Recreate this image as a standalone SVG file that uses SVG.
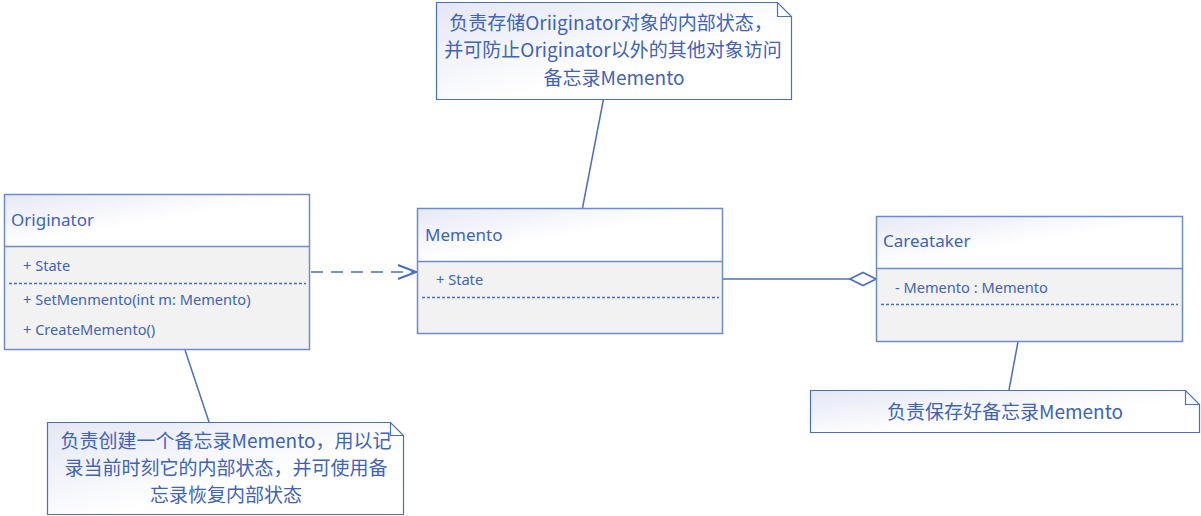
<svg xmlns="http://www.w3.org/2000/svg" width="1201" height="516" viewBox="0 0 1201 516">
<defs>
<linearGradient id="hg" x1="0" y1="0" x2="1" y2="1">
<stop offset="0" stop-color="#E6E8F5"/>
<stop offset="0.5" stop-color="#FFFFFF"/>
<stop offset="1" stop-color="#FFFFFF"/>
</linearGradient>
<linearGradient id="ng" x1="0" y1="0" x2="1" y2="1">
<stop offset="0" stop-color="#E4E7F4"/>
<stop offset="0.6" stop-color="#FFFFFF"/>
<stop offset="1" stop-color="#FFFFFF"/>
</linearGradient>
<marker id="open" viewBox="0 0 20 16" refX="19" refY="8" markerWidth="20" markerHeight="16" markerUnits="userSpaceOnUse" orient="auto">
<path d="M1,1 L19,8 L1,15" fill="none" stroke="#4A6FC0" stroke-width="2"/>
</marker>
<marker id="dia" viewBox="0 0 28 16" refX="27" refY="8" markerWidth="28" markerHeight="16" markerUnits="userSpaceOnUse" orient="auto">
<path d="M1,8 L14,1.5 L27,8 L14,14.5 Z" fill="#FFFFFF" stroke="#4A6FC0" stroke-width="1.6"/>
</marker>
</defs>
<style>
.box{stroke:#6D8CCB;stroke-width:1.5}
.hd{fill:url(#hg)}
.bd{fill:#F2F2F2}
.sep{stroke:#6D8CCB;stroke-width:1.5}
.dot{stroke:#4A6FC0;stroke-width:1.5;stroke-dasharray:3 2}
.note{fill:url(#ng);stroke:#4A6FC0;stroke-width:1.2}
.fold{fill:none;stroke:#4A6FC0;stroke-width:1.2}
.t{font-family:"Noto Sans","Noto Sans CJK SC",sans-serif;fill:#3F63B5}
.h{font-size:17px}
.a{font-size:14.6px}
.n{font-size:19px;text-anchor:middle;font-family:"Noto Sans CJK SC","Noto Sans",sans-serif;fill:#3F63B5}
.c{fill:none;stroke:#4A6FC0;stroke-width:1.5}
</style>
<g id="connectors">
<line class="c" x1="311" y1="272" x2="416" y2="272" stroke-dasharray="12 8" marker-end="url(#open)"/>
<line class="c" x1="723" y1="279" x2="876" y2="279" marker-end="url(#dia)"/>
<line class="c" x1="603.5" y1="99" x2="582.5" y2="208" stroke-width="1.2"/>
<line class="c" x1="185" y1="350" x2="209" y2="422" stroke-width="1.2"/>
<line class="c" x1="1018" y1="342" x2="1009" y2="390" stroke-width="1.2"/>
</g>
<g id="originator">
<rect class="hd" x="4.5" y="194.5" width="305" height="52"/>
<rect class="bd" x="4.5" y="246.5" width="305" height="103"/>
<rect class="box" x="4.5" y="194.5" width="305" height="155" fill="none"/>
<line class="sep" x1="4.5" y1="246.5" x2="309.5" y2="246.5"/>
<line class="dot" x1="9" y1="283.5" x2="306" y2="283.5"/>
<text class="t h" x="11" y="226">Originator</text>
<text class="t a" x="23" y="271">+ State</text>
<text class="t a" x="23" y="305">+ SetMenmento(int m: Memento)</text>
<text class="t a" x="23" y="335">+ CreateMemento()</text>
</g>
<g id="memento">
<rect class="hd" x="417.5" y="208.5" width="305" height="53"/>
<rect class="bd" x="417.5" y="261.5" width="305" height="72"/>
<rect class="box" x="417.5" y="208.5" width="305" height="125" fill="none"/>
<line class="sep" x1="417.5" y1="261.5" x2="722.5" y2="261.5"/>
<line class="dot" x1="422" y1="297.5" x2="719" y2="297.5"/>
<text class="t h" x="425" y="241">Memento</text>
<text class="t a" x="436" y="285">+ State</text>
</g>
<g id="careataker">
<rect class="hd" x="876.5" y="216.5" width="306" height="52"/>
<rect class="bd" x="876.5" y="268.5" width="306" height="73"/>
<rect class="box" x="876.5" y="216.5" width="306" height="125" fill="none"/>
<line class="sep" x1="876.5" y1="268.5" x2="1182.5" y2="268.5"/>
<line class="dot" x1="881" y1="304.5" x2="1178" y2="304.5"/>
<text class="t h" x="883" y="247">Careataker</text>
<text class="t a" x="895" y="293">- Memento : Memento</text>
</g>
<g id="note-memento">
<path class="note" d="M436.5,2.5 H777.5 L791.5,16.5 V99.5 H436.5 Z"/>
<path class="fold" d="M777.5,2.5 V16.5 H791.5"/>
<text class="n" x="611" y="30">负责存储Oriiginator对象的内部状态，</text>
<text class="n" x="613" y="57">并可防止Originator以外的其他对象访问</text>
<text class="n" x="614" y="85">备忘录Memento</text>
</g>
<g id="note-originator">
<path class="note" d="M47.5,422.5 H390.5 L403.5,435.5 V514.5 H47.5 Z"/>
<path class="fold" d="M390.5,422.5 V435.5 H403.5"/>
<text class="n" x="226" y="448">负责创建一个备忘录Memento，用以记</text>
<text class="n" x="226" y="475">录当前时刻它的内部状态，并可使用备</text>
<text class="n" x="226" y="502">忘录恢复内部状态</text>
</g>
<g id="note-careataker">
<path class="note" d="M810.5,390.5 H1185.5 L1199.5,404.5 V432.5 H810.5 Z"/>
<path class="fold" d="M1185.5,390.5 V404.5 H1199.5"/>
<text class="n" x="1005" y="419">负责保存好备忘录Memento</text>
</g>
</svg>
